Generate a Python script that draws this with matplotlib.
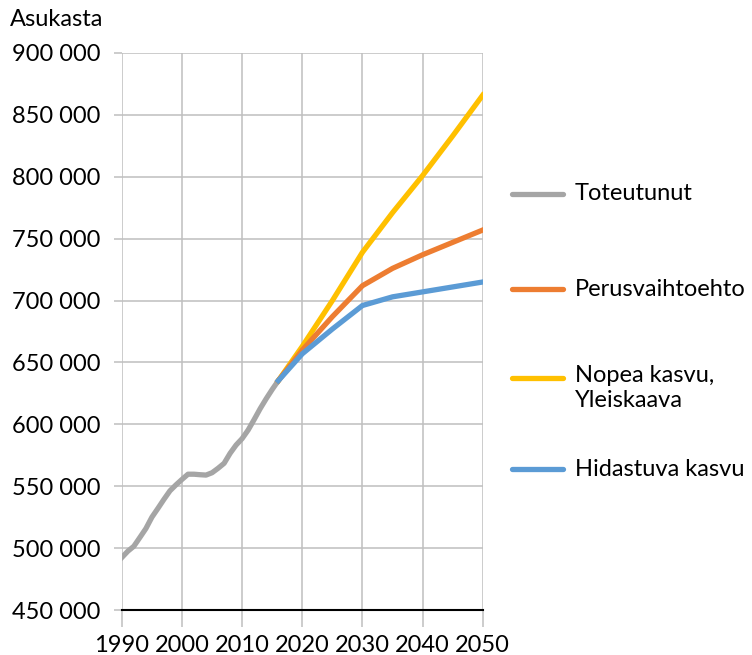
"""
Helsinki population, history and projections
"""

import matplotlib as mpl
import matplotlib.pyplot as plt
from matplotlib.lines import Line2D
from matplotlib.ticker import FuncFormatter

mpl.rcParams["font.family"] = ["Lato", "DejaVu Sans"]

# realised population
HIST_YEARS = list(range(1990, 2017))
HIST_POP = [492400, 497500, 501500, 508600, 515800, 525000, 532100, 539400,
            546300, 551100, 555500, 559700, 559700, 559300, 559000, 560900,
            564500, 568500, 576600, 583300, 588500, 595400, 603900, 612700,
            620700, 628200, 635200]

# projections
PROJ_YEARS = [2016, 2020, 2025, 2030, 2035, 2040, 2045, 2050]
FAST = [635200, 663000, 700000, 739000, 771000, 801000, 833000, 866000]
BASE = [635200, 660000, 687000, 712000, 726000, 737000, 747000, 757000]
SLOW = [635200, 657000, 677000, 696000, 703000, 707000, 711000, 715000]

LABELS = ["Toteutunut", "Perusvaihtoehto", "Nopea kasvu,\nYleiskaava", "Hidastuva kasvu"]
COLORS = ["#A5A5A5", "#ED7D31", "#FFC000", "#5B9BD5"]
XTICKS = [1990, 2000, 2010, 2020, 2030, 2040, 2050]
YTICKS = list(range(450000, 900001, 50000))

LW = 3.8
GRID = "#BFBFBF"
FS = 17

fig = plt.figure(figsize=(7.52, 6.55), dpi=100)
ax = fig.add_axes([0.162, 0.0687, 0.480, 0.8504])

ax.plot(HIST_YEARS, HIST_POP, color=COLORS[0], lw=LW, solid_joinstyle="round")
ax.plot(PROJ_YEARS, FAST, color=COLORS[2], lw=LW, solid_joinstyle="round")
ax.plot(PROJ_YEARS, BASE, color=COLORS[1], lw=LW, solid_joinstyle="round")
ax.plot(PROJ_YEARS, SLOW, color=COLORS[3], lw=LW, solid_joinstyle="round")

ax.set_xlim(1990, 2050)
ax.set_ylim(450000, 900000)
ax.set_xticks(XTICKS)
ax.set_yticks(YTICKS)
ax.yaxis.set_major_formatter(FuncFormatter(lambda v, p: f"{int(v):,}".replace(",", " ")))
ax.grid(True, color=GRID, lw=1.1)
ax.set_axisbelow(True)
for s in ["top", "right", "left"]:
    ax.spines[s].set_visible(False)
ax.spines["bottom"].set_color("black")
ax.spines["bottom"].set_linewidth(1.5)
ax.spines["bottom"].set_zorder(3)
ax.tick_params(axis="x", length=12, color=GRID, width=1.1, labelsize=FS, pad=6)
ax.tick_params(axis="y", length=5.5, color=GRID, width=1.1, labelsize=FS, pad=10)

fig.text(0.013, 0.97, "Asukasta", fontsize=FS, ha="left", va="center")

# legend, drawn in figure coordinates
LEG_Y = [194, 289, 378, 469]
for label, color, ypx in zip(LABELS, COLORS, LEG_Y):
    yf = 1 - ypx / 655
    fig.add_artist(Line2D([512 / 752, 563 / 752], [yf, yf], color=color, lw=LW,
                          solid_capstyle="round"))
    if "\n" in label:
        fig.text(575 / 752, 1 - 365 / 655, label, fontsize=FS, ha="left", va="top",
                 linespacing=1.25)
    else:
        fig.text(575 / 752, yf, label, fontsize=FS, ha="left", va="center")

fig.savefig("out.png", dpi=100)
